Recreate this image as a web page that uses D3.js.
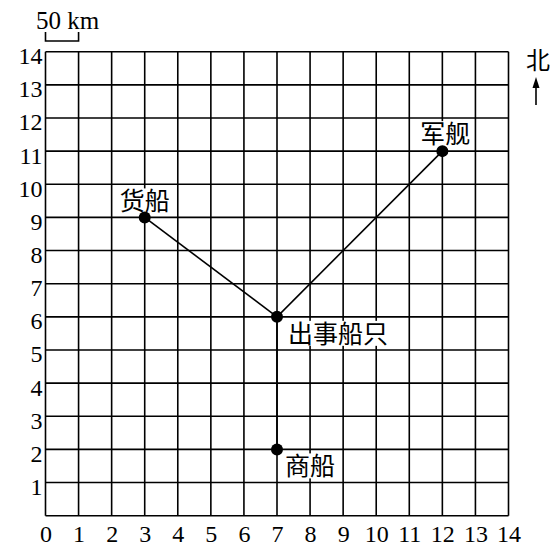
<!DOCTYPE html>
<html>
<head>
<meta charset="utf-8">
<script src="https://cdn.jsdelivr.net/npm/d3@7"></script>
<style>
  body { margin: 0; background: #fff; }
</style>
</head>
<body>
<div id="chart"></div>
<script>
// grid coordinates (units of 50 km)
const ticks = d3.range(0, 15)
const ships = [
  { name: '货船', x: 3, y: 9, dx: -25, dy: -7 },
  { name: '出事船只', x: 7, y: 6, dx: 11, dy: 26 },
  { name: '军舰', x: 12, y: 11, dx: -22, dy: -8 },
  { name: '商船', x: 7, y: 2, dx: 8, dy: 26 }
]
const routes = [['货船', '出事船只'], ['出事船只', '军舰'], ['出事船只', '商船']]

const width = 553, height = 546
const svg = d3.select('#chart').append('svg')
  .attr('width', width).attr('height', height)

const x = d3.scaleLinear().domain([0, 14]).range([45.5, 508.5])
const y = d3.scaleLinear().domain([0, 14]).range([515.7, 51.7])

const serif = '"Liberation Serif", "DejaVu Serif", serif'
const cjk = '"Noto Sans CJK SC", sans-serif'

// grid
const grid = svg.append('g').attr('stroke', '#000').attr('stroke-width', 1.6)
grid.selectAll('.v').data(ticks).join('line')
  .attr('x1', d => x(d)).attr('x2', d => x(d))
  .attr('y1', y(0)).attr('y2', y(14))
grid.selectAll('.h').data(ticks).join('line')
  .attr('y1', d => y(d)).attr('y2', d => y(d))
  .attr('x1', x(0)).attr('x2', x(14))

// axes labels
const xAxis = d3.axisBottom(x).tickValues(ticks).tickSize(0).tickPadding(9)
svg.append('g').attr('transform', `translate(0,${y(0)})`).call(xAxis)
  .call(g => g.select('.domain').remove())
  .call(g => g.attr('font-size', null).attr('font-family', null))
  .selectAll('text')
  .style('font-family', serif).style('font-size', '24px').attr('fill', '#000')

const yAxis = d3.axisLeft(y).tickValues(ticks.slice(1)).tickSize(0).tickPadding(3)
svg.append('g').attr('transform', `translate(${x(0)},0)`).call(yAxis)
  .call(g => g.select('.domain').remove())
  .call(g => g.attr('font-size', null).attr('font-family', null))
  .selectAll('text')
  .attr('dy', '0.5em')
  .style('font-family', serif).style('font-size', '24px').attr('fill', '#000')

// scale bar
svg.append('text').attr('x', 36).attr('y', 29)
  .style('font-family', serif).style('font-size', '25px').text('50 km')
svg.append('path')
  .attr('d', `M${x(0)},32V41H${x(1)}V32`)
  .attr('fill', 'none').attr('stroke', '#000').attr('stroke-width', 1.6)

// north
svg.append('text').attr('x', 538).attr('y', 69).attr('text-anchor', 'middle')
  .style('font-family', cjk).style('font-size', '24px').text('北')
svg.append('line').attr('x1', 536).attr('x2', 536).attr('y1', 82).attr('y2', 105)
  .attr('stroke', '#000').attr('stroke-width', 1.6)
svg.append('path').attr('d', 'M536,77L532.5,88L539.5,88Z').attr('fill', '#000')

// routes
const byName = Object.fromEntries(ships.map(s => [s.name, s]))
svg.append('g').selectAll('line').data(routes).join('line')
  .attr('x1', d => x(byName[d[0]].x)).attr('y1', d => y(byName[d[0]].y))
  .attr('x2', d => x(byName[d[1]].x)).attr('y2', d => y(byName[d[1]].y))
  .attr('stroke', '#000').attr('stroke-width', 1.6)

// ships
const pts = svg.append('g').selectAll('g').data(ships).join('g')
pts.append('rect')
  .attr('x', d => x(d.x) + d.dx - 1).attr('y', d => y(d.y) + d.dy - 22)
  .attr('width', d => d.name.length * 25.5 + 2).attr('height', 25)
  .attr('fill', '#fff')
pts.append('circle')
  .attr('cx', d => x(d.x)).attr('cy', d => y(d.y)).attr('r', 6).attr('fill', '#000')
pts.append('text')
  .attr('x', d => x(d.x) + d.dx).attr('y', d => y(d.y) + d.dy)
  .style('font-family', cjk).style('font-size', '25px').text(d => d.name)
</script>
</body>
</html>
